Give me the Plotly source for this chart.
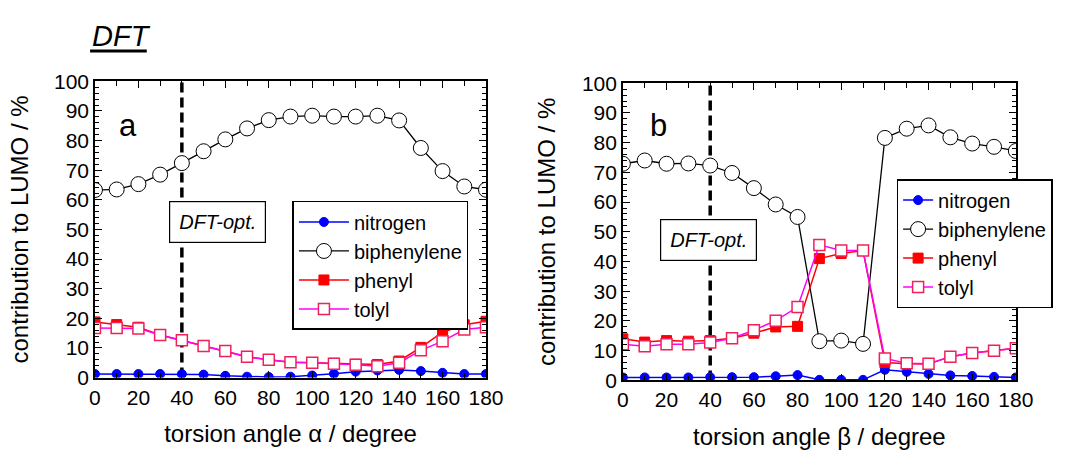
import plotly.graph_objects as go

# torsion angles (degree)
angles = list(range(0, 181, 10))

# panel a: torsion angle alpha, contribution to LUMO (%)
a_nitrogen = [1.2, 1.2, 1.2, 1.2, 1.2, 1.0, 0.6, 0.3, 0.2, 0.3, 0.7, 1.3, 2.0, 2.4, 2.6, 2.2, 1.6, 1.2, 1.2]
a_biphenylene = [63.3, 63.5, 65.3, 68.5, 72.4, 76.4, 80.4, 84.1, 86.9, 88.1, 88.4, 88.1, 88.1, 88.4, 86.8, 77.5, 69.7, 64.5, 63.4]
a_phenyl = [18.8, 17.9, 17.0, 14.4, 12.6, 10.7, 9.0, 7.0, 6.0, 5.2, 5.0, 4.8, 4.5, 4.4, 5.6, 10.2, 15.3, 17.8, 19.0]
a_tolyl = [16.7, 16.7, 16.6, 14.4, 12.6, 10.7, 9.0, 7.0, 6.0, 5.2, 5.0, 4.7, 4.3, 3.8, 5.0, 9.2, 12.3, 16.2, 17.0]

# panel b: torsion angle beta, contribution to LUMO (%)
b_nitrogen = [1.0, 1.0, 1.0, 1.0, 1.1, 1.1, 1.1, 1.4, 1.8, 0.2, 0.2, 0.2, 3.6, 2.9, 2.2, 1.7, 1.5, 1.2, 1.0]
b_biphenylene = [72.9, 74.0, 72.9, 73.0, 72.3, 69.8, 64.7, 59.2, 55.0, 13.2, 13.4, 12.3, 81.6, 84.7, 85.8, 81.8, 79.7, 78.6, 77.2]
b_phenyl = [14.0, 12.9, 13.4, 13.2, 13.4, 14.2, 15.9, 18.0, 18.2, 41.0, 42.7, 43.7, 6.0, 5.6, 5.5, 8.0, 9.2, 10.0, 10.8]
b_tolyl = [12.2, 11.5, 12.2, 12.2, 12.8, 14.2, 16.9, 20.1, 24.7, 45.6, 43.7, 43.7, 7.4, 5.8, 5.6, 8.0, 9.2, 10.0, 10.8]

series_names = ["nitrogen", "biphenylene", "phenyl", "tolyl"]
tick_vals_x = list(range(0, 181, 20))
tick_vals_y = list(range(0, 101, 10))

FONT = "Liberation Sans, Arial, sans-serif"
W, H = 1072, 456

styles = {
    "nitrogen": dict(line=dict(color="#0000ff", width=1.5),
                     marker=dict(symbol="circle", size=9, color="#0000ff",
                                 line=dict(color="#0000ff", width=1))),
    "biphenylene": dict(line=dict(color="#000000", width=1.3),
                        marker=dict(symbol="circle", size=15, color="white",
                                    line=dict(color="#000000", width=1))),
    "phenyl": dict(line=dict(color="#ff0000", width=1.5),
                   marker=dict(symbol="square", size=10, color="#ff0000",
                               line=dict(color="#ff0000", width=1))),
    "tolyl": dict(line=dict(color="#ff00ff", width=1.5),
                  marker=dict(symbol="square", size=11, color="white",
                              line=dict(color="#f0205a", width=1.5))),
}

fig = go.Figure()

panels = [
    ("x", "y", "legend", [a_nitrogen, a_biphenylene, a_phenyl, a_tolyl]),
    ("x2", "y2", "legend2", [b_nitrogen, b_biphenylene, b_phenyl, b_tolyl]),
]
for xa, ya, leg, values in panels:
    for name, vals in zip(series_names, values):
        fig.add_trace(go.Scatter(
            x=angles, y=vals, name=name, mode="lines+markers",
            xaxis=xa, yaxis=ya, legend=leg, **styles[name]))

# vertical dashed line at the optimised geometry (40 degree)
for xa, ya in [("x", "y"), ("x2", "y2")]:
    fig.add_shape(type="line", xref=xa, yref=ya, x0=40, x1=40, y0=0, y1=100,
                  line=dict(color="black", width=3.5, dash="10px,5px"),
                  layer="below")

# underline of the "DFT" heading
fig.add_shape(type="line", xref="paper", yref="paper",
              x0=86 / W, x1=144 / W, y0=1 - 41 / H, y1=1 - 41 / H,
              line=dict(color="black", width=3))

axis_common = dict(
    showline=True, linecolor="black", linewidth=1.5, mirror="allticks",
    ticks="inside", ticklen=7, tickwidth=1.2, tickcolor="black",
    showgrid=False, zeroline=False,
    tickfont=dict(family=FONT, size=21, color="black"),
)

x_domains = [(91 / W, 491 / W), (631 / W, 1033 / W)]
y_domains = [(1 - 385 / H, 1 - 73 / H), (1 - 388 / H, 1 - 75 / H)]
x_titles = ["torsion angle \u03b1 / degree", "torsion angle \u03b2 / degree"]

for i, suffix in enumerate(["", "2"]):
    fig.update_layout({
        f"xaxis{suffix}": dict(
            axis_common, domain=x_domains[i], range=[0, 180],
            anchor=f"y{suffix}", tickvals=tick_vals_x,
            minor=dict(dtick=10, ticks="inside", ticklen=5, tickcolor="black", tickwidth=1),
            title=dict(text=x_titles[i], font=dict(family=FONT, size=24, color="black"),
                       standoff=18)),
        f"yaxis{suffix}": dict(
            axis_common, domain=y_domains[i], range=[0, 100],
            anchor=f"x{suffix}", tickvals=tick_vals_y,
            minor=dict(dtick=2, ticks="inside", ticklen=4, tickcolor="black", tickwidth=1),
            title=dict(text="contribution to LUMO / %",
                       font=dict(family=FONT, size=24, color="black"), standoff=19)),
    })

legend_common = dict(
    bgcolor="white", bordercolor="black", borderwidth=1.5,
    xanchor="left", yanchor="top", tracegroupgap=0,
)
fig.update_layout(
    legend=dict(legend_common, x=293 / W, y=1 - 199 / H, itemwidth=50,
                font=dict(family=FONT, size=20, color="black")),
    legend2=dict(legend_common, x=911 / W, y=1 - 176 / H, itemwidth=30,
                 font=dict(family=FONT, size=20, color="black")),
)

annotations = [
    dict(text="<i>DFT</i>", x=86 / W, y=1 - 25 / H, xanchor="left",
         yanchor="middle", font=dict(family=FONT, size=29, color="black")),
    dict(text="a", x=125 / W, y=1 - 120 / H, xanchor="center", yanchor="middle",
         font=dict(family=FONT, size=31, color="black")),
    dict(text="b", x=667 / W, y=1 - 120 / H, xanchor="center", yanchor="middle",
         font=dict(family=FONT, size=31, color="black")),
    dict(text="<i>DFT-opt.</i>", x=216 / W, y=1 - 221 / H, xanchor="center",
         yanchor="middle", font=dict(family=FONT, size=20, color="black"),
         bgcolor="white", bordercolor="black", borderwidth=1.2, borderpad=9),
    dict(text="<i>DFT-opt.</i>", x=719 / W, y=1 - 240 / H, xanchor="center",
         yanchor="middle", font=dict(family=FONT, size=20, color="black"),
         bgcolor="white", bordercolor="black", borderwidth=1.2, borderpad=9),
]
for ann in annotations:
    ann.update(xref="paper", yref="paper", showarrow=False)

fig.update_layout(
    width=W, height=H, margin=dict(l=0, r=0, t=0, b=0),
    paper_bgcolor="white", plot_bgcolor="white",
    annotations=annotations,
)

fig.write_html("out.html")
